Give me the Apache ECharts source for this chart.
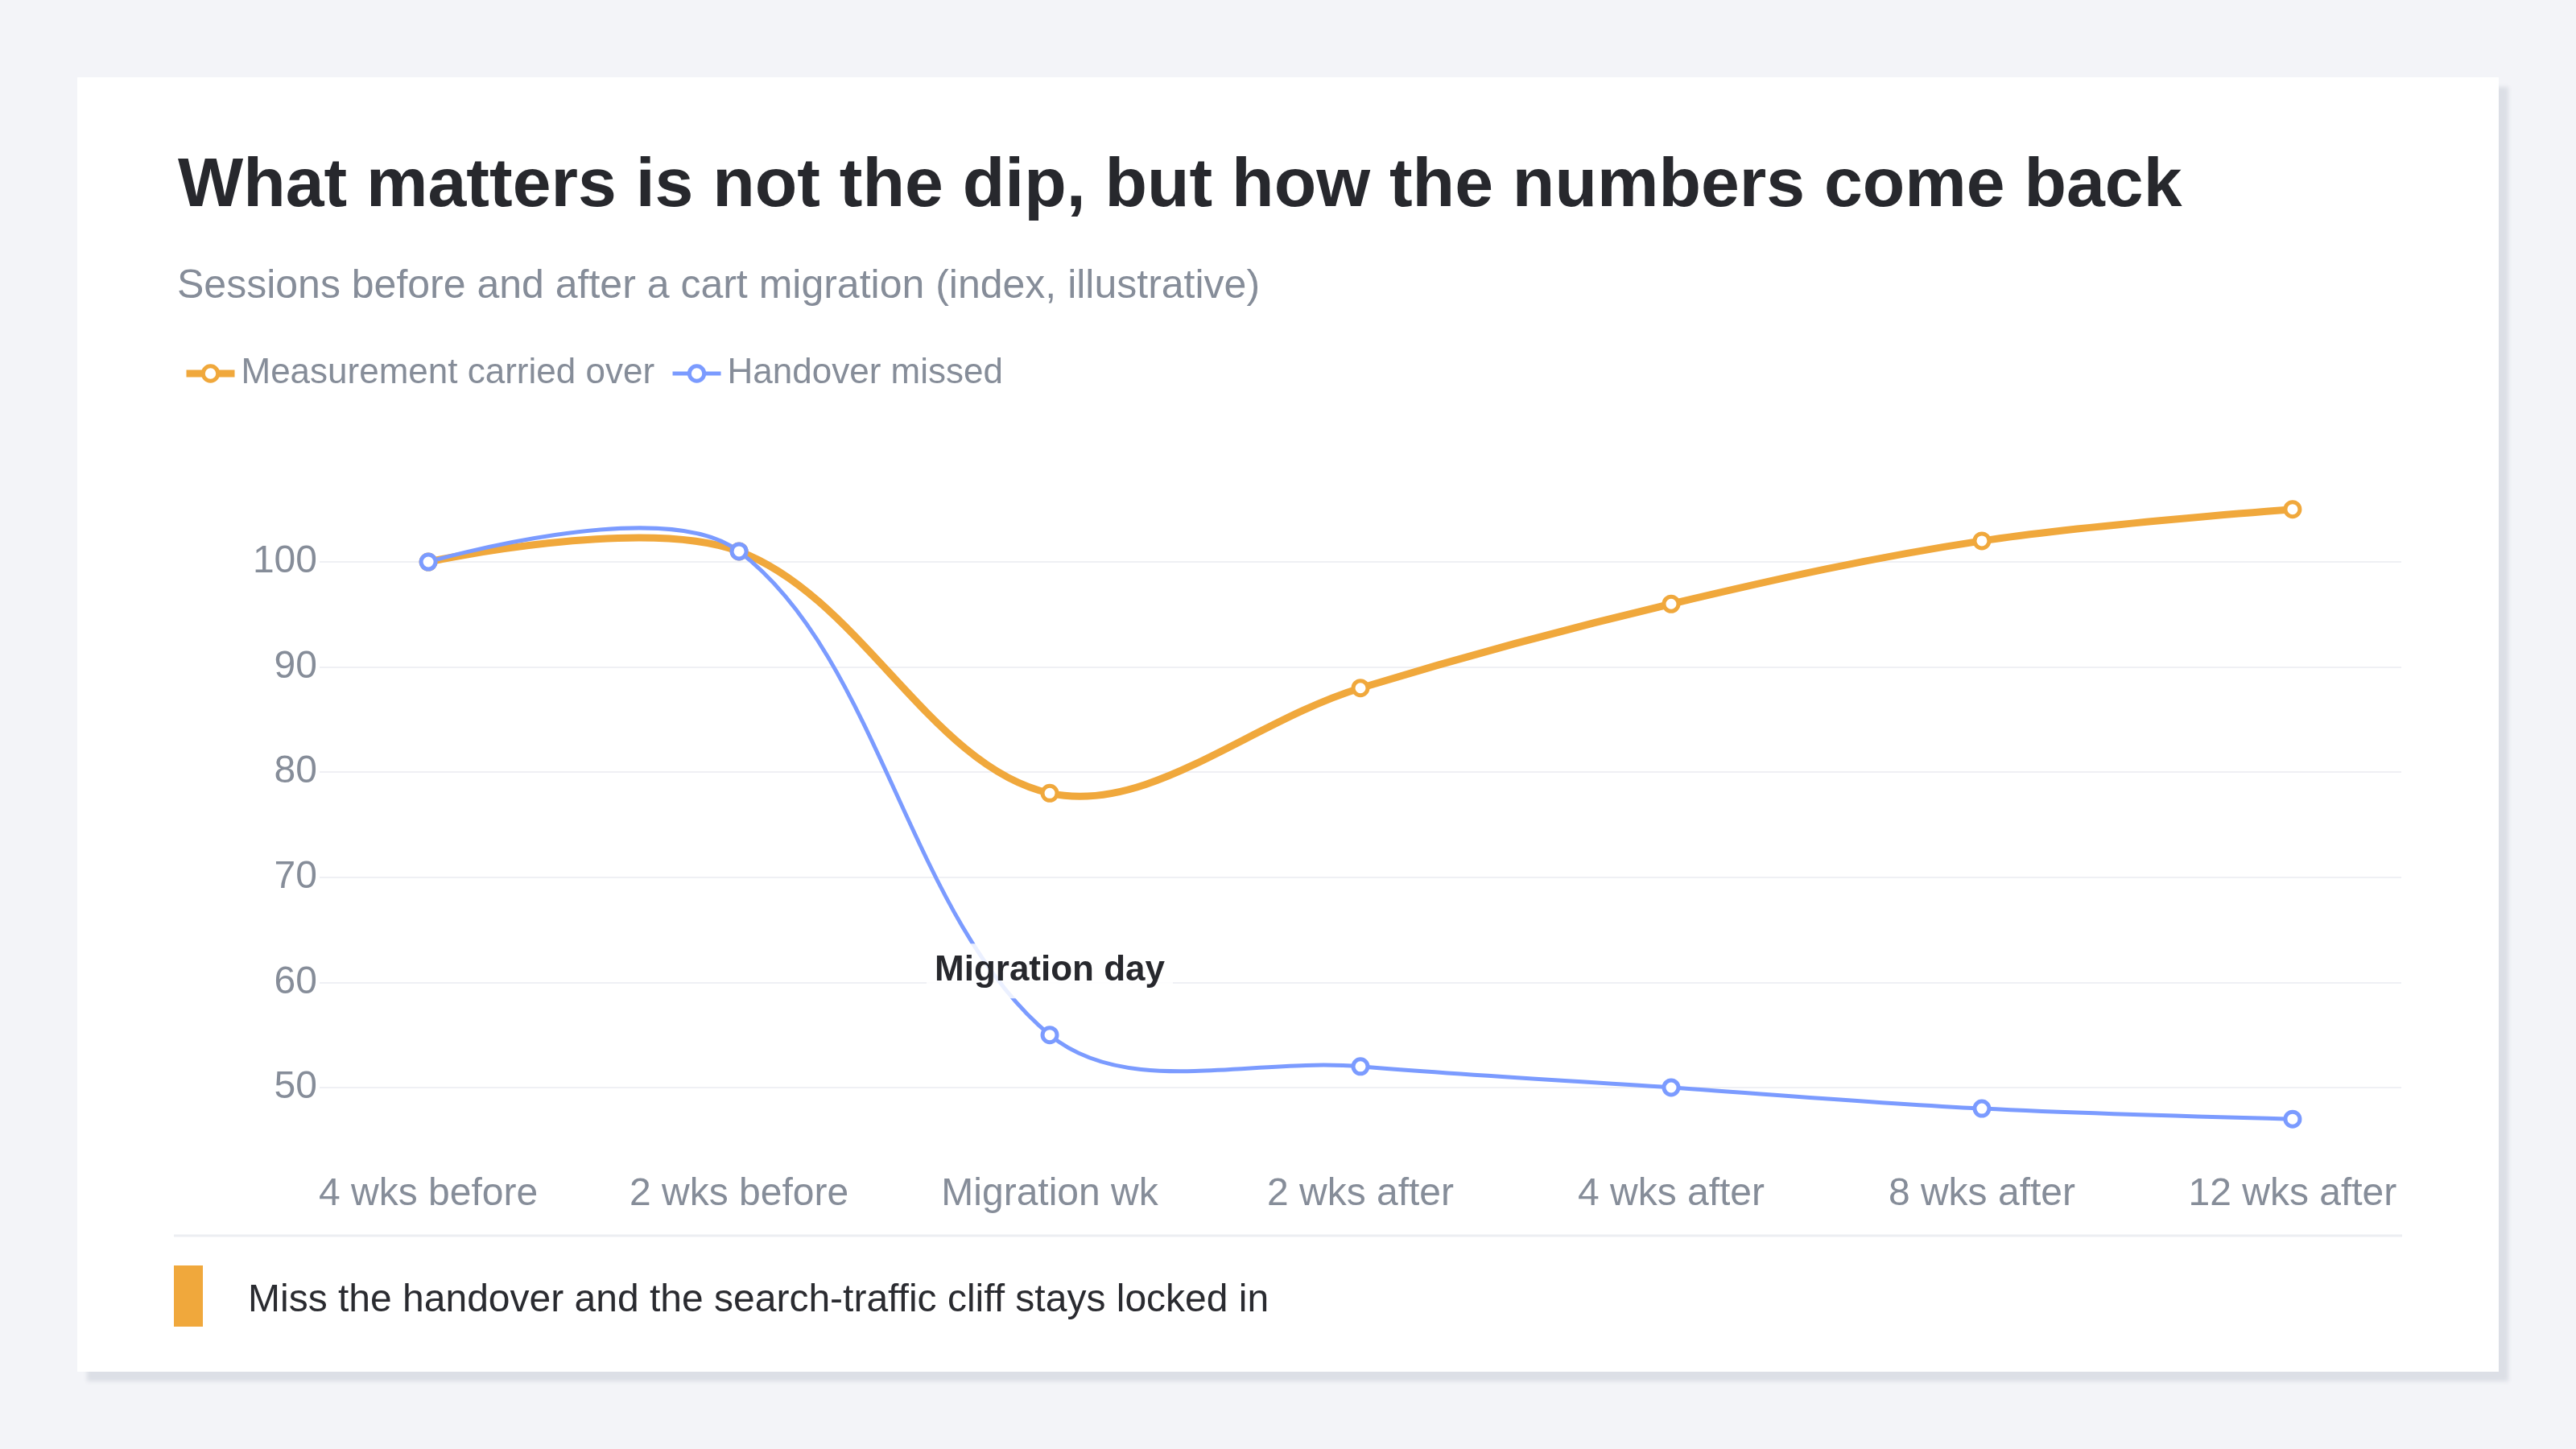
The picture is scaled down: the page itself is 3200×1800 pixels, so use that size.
<!DOCTYPE html>
<html>
<head>
<meta charset="utf-8">
<title>Sessions before and after a cart migration</title>
<script src="https://cdn.jsdelivr.net/npm/echarts@6/dist/echarts.min.js"></script>
<style>
  html, body { margin: 0; padding: 0; background: #f3f4f8; }
  #card { position: absolute; left: 96px; top: 96px; width: 3008px; height: 1608px; background: #fff; box-shadow: 12px 12px 5px #dcdfe6; }
  #chart { position: absolute; left: 0; top: 0; width: 3200px; height: 1800px; }
</style>
</head>
<body>
<div id="card"></div>
<div id="chart"></div>
<script>
// categories along the x axis
const weeks = ['4 wks before', '2 wks before', 'Migration wk', '2 wks after', '4 wks after', '8 wks after', '12 wks after'];
// session index per week
const carriedOver = [100, 101, 78, 88, 96, 102, 105];
const handoverMissed = [100, 101, 55, 52, 50, 48, 47];
const seriesNames = ['Measurement carried over', 'Handover missed'];
const markerIndex = 2;
const markerText = 'Migration day';
const footerText = 'Miss the handover and the search-traffic cliff stays locked in';

const font = "'Liberation Sans', Arial, Helvetica, sans-serif";
const gray = '#868d99';
const dark = '#27282d';
const orange = '#f0a83c';
const blue = '#7b9bff';
const smoothness = 0.35;

const myChart = echarts.init(document.getElementById('chart'));

// x is a value axis so the first/last weeks sit a bit inside the gridlines
const toPoints = arr => arr.map((v, i) => [i, v]);
const missedPoints = toPoints(handoverMissed).map((p, i) => i === markerIndex ? {
    value: p,
    label: {
        show: true,
        position: 'top',
        distance: 34,
        formatter: markerText,
        color: dark,
        fontFamily: font,
        fontWeight: 'bold',
        fontSize: 44,
        lineHeight: 48,
        padding: [10, 10],
        backgroundColor: 'rgba(255,255,255,0.85)'
    }
} : p);

// smoothed curve (unclamped, so it bulges past the peaks like the original)
function curve(values, color, width) {
    return function (params, api) {
        const i = params.dataIndex;
        if (i >= values.length - 1) return null;
        const pts = values.map((v, k) => api.coord([k, v]));
        const ctrl = k => {
            const p = pts[k];
            if (k === 0 || k === pts.length - 1) return [p, p];
            const prev = pts[k - 1], next = pts[k + 1];
            const vx = (next[0] - prev[0]) * smoothness;
            const vy = (next[1] - prev[1]) * smoothness;
            let d0 = Math.hypot(p[0] - prev[0], p[1] - prev[1]);
            let d1 = Math.hypot(next[0] - p[0], next[1] - p[1]);
            const sum = d0 + d1;
            d0 /= sum; d1 /= sum;
            return [[p[0] - vx * d0, p[1] - vy * d0], [p[0] + vx * d1, p[1] + vy * d1]];
        };
        const a = pts[i], b = pts[i + 1];
        const c1 = ctrl(i)[1], c2 = ctrl(i + 1)[0];
        return {
            type: 'bezierCurve',
            shape: { x1: a[0], y1: a[1], x2: b[0], y2: b[1], cpx1: c1[0], cpy1: c1[1], cpx2: c2[0], cpy2: c2[1] },
            style: { stroke: color, lineWidth: width, fill: 'none', lineCap: 'round' }
        };
    };
}

myChart.setOption({
    animation: false,
    textStyle: { fontFamily: font },
    title: [
        {
            text: 'What matters is not the dip, but how the numbers come back',
            left: 216,
            top: 184,
            textStyle: { fontSize: 86, fontWeight: 'bold', color: dark, fontFamily: font }
        },
        {
            text: 'Sessions before and after a cart migration (index, illustrative)',
            left: 215,
            top: 326,
            textStyle: { fontSize: 50, fontWeight: 'normal', color: gray, fontFamily: font }
        }
    ],
    legend: {
        left: 222,
        top: 437,
        itemWidth: 60,
        itemHeight: 23,
        itemGap: 20,
        itemStyle: { borderWidth: 5 },
        textStyle: { fontSize: 44, color: gray, fontFamily: font, padding: [0, 0, 0, 3] },
        data: [
            { name: seriesNames[0], lineStyle: { color: orange, width: 9, opacity: 1 } },
            { name: seriesNames[1], lineStyle: { color: blue, width: 5, opacity: 1 } }
        ]
    },
    grid: { left: 397, right: 217, top: 606.6, bottom: 357.6 },
    xAxis: {
        type: 'value',
        min: -0.35,
        max: 6.35,
        axisLine: { show: false },
        axisTick: { show: false },
        splitLine: { show: false },
        axisLabel: {
            customValues: weeks.map((w, i) => i),
            formatter: v => weeks[v],
            color: gray,
            fontSize: 48,
            margin: 17,
            fontFamily: font
        }
    },
    yAxis: {
        type: 'value',
        min: 43,
        max: 107,
        axisLine: { show: false },
        axisTick: { show: false },
        axisLabel: {
            color: gray,
            fontSize: 48,
            margin: 3,
            fontFamily: font,
            showMinLabel: false,
            showMaxLabel: false
        },
        splitLine: {
            showMinLine: false,
            showMaxLine: false,
            lineStyle: { color: '#eff0f4', width: 2 }
        }
    },
    series: [
        {
            name: 'carried-curve',
            type: 'custom',
            silent: true,
            data: toPoints(carriedOver),
            renderItem: curve(carriedOver, orange, 9)
        },
        {
            name: 'missed-curve',
            type: 'custom',
            silent: true,
            data: toPoints(handoverMissed),
            renderItem: curve(handoverMissed, blue, 5)
        },
        {
            name: seriesNames[0],
            type: 'line',
            data: toPoints(carriedOver),
            symbol: 'circle',
            symbolSize: 18,
            lineStyle: { color: orange, width: 9, opacity: 0 },
            itemStyle: { color: '#fff', borderColor: orange, borderWidth: 5 }
        },
        {
            name: seriesNames[1],
            type: 'line',
            data: missedPoints,
            symbol: 'circle',
            symbolSize: 18,
            lineStyle: { color: blue, width: 5, opacity: 0 },
            itemStyle: { color: '#fff', borderColor: blue, borderWidth: 5 }
        }
    ],
    graphic: [
        {
            type: 'line',
            shape: { x1: 216, y1: 1535, x2: 2984, y2: 1535 },
            style: { stroke: '#eceef2', lineWidth: 3 }
        },
        {
            type: 'rect',
            shape: { x: 216, y: 1572, width: 36, height: 76 },
            style: { fill: orange }
        },
        {
            type: 'text',
            x: 308,
            y: 1616,
            style: {
                text: footerText,
                fill: '#2a2b30',
                fontSize: 48,
                fontFamily: font,
                verticalAlign: 'middle'
            }
        }
    ]
});
</script>
</body>
</html>
